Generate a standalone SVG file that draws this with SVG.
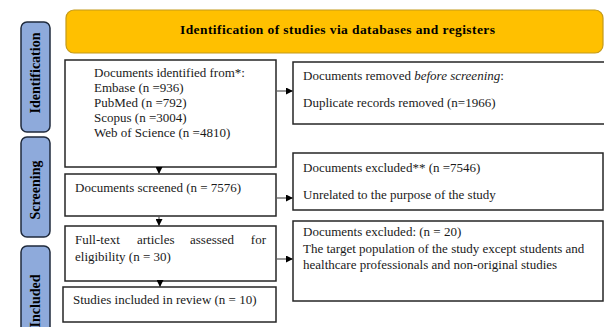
<svg xmlns="http://www.w3.org/2000/svg" width="604" height="327" viewBox="0 0 604 327">
  <defs>
    <marker id="arrow" viewBox="0 0 10 10" refX="10" refY="5" markerWidth="7" markerHeight="7" markerUnits="userSpaceOnUse" orient="auto">
      <path d="M0,0 L10,5 L0,10 z" fill="#000"/>
    </marker>
    <style>
      .box { fill: #fff; stroke: #262626; stroke-width: 1.5; }
      .phase { fill: #8eaadb; stroke: #1f2a3c; stroke-width: 1.5; }
      .phase-label { font-family: "Liberation Serif", "DejaVu Serif", serif; font-weight: bold; font-size: 14px; fill: #000; text-anchor: middle; }
      .t { font-family: "Liberation Serif", "Times New Roman", serif; font-size: 13px; fill: #1a1a1a; }
      .head { font-family: "Liberation Serif", "Times New Roman", serif; font-size: 13.5px; font-weight: bold; fill: #000; }
      .conn { stroke: #555; stroke-width: 1.2; fill: none; }
    </style>
  </defs>
  <rect width="604" height="327" fill="#fff"/>

  <!-- header banner -->
  <g id="header">
    <rect x="66" y="10" width="537" height="43" rx="8" ry="8" fill="#ffc000" stroke="#c49a1a" stroke-width="1.2"/>
    <text class="head" x="180" y="34" textLength="315" lengthAdjust="spacing">Identification of studies via databases and registers</text>
  </g>

  <!-- phase tabs -->
  <g id="phase-identification">
    <rect class="phase" x="21" y="22" width="29" height="110" rx="6" ry="6"/>
    <text class="phase-label" transform="translate(40,73) rotate(-90)">Identification</text>
  </g>
  <g id="phase-screening">
    <rect class="phase" x="21" y="137" width="29" height="100" rx="6" ry="6"/>
    <text class="phase-label" transform="translate(40,190) rotate(-90)">Screening</text>
  </g>
  <g id="phase-included">
    <rect class="phase" x="21" y="246" width="29" height="100" rx="6" ry="6"/>
    <text class="phase-label" transform="translate(40,301) rotate(-90)">Included</text>
  </g>

  <!-- left column -->
  <g id="identified">
    <rect class="box" x="65" y="60" width="211" height="107"/>
    <text class="t" x="94" y="77">Documents identified from*:</text>
    <text class="t" x="94" y="92">Embase (n =936)</text>
    <text class="t" x="94" y="107">PubMed (n =792)</text>
    <text class="t" x="94" y="122">Scopus (n =3004)</text>
    <text class="t" x="94" y="137">Web of Science (n =4810)</text>
  </g>
  <g id="screened">
    <rect class="box" x="65" y="174" width="211" height="42"/>
    <text class="t" x="75" y="192">Documents screened (n = 7576)</text>
  </g>
  <g id="fulltext">
    <rect class="box" x="65" y="226" width="211" height="55"/>
    <text class="t" y="244"><tspan x="75">Full-text</tspan><tspan x="137">articles</tspan><tspan x="190">assessed</tspan><tspan x="266" text-anchor="end">for</tspan></text>
    <text class="t" x="75" y="261">eligibility (n = 30)</text>
  </g>
  <g id="included">
    <rect class="box" x="63" y="287" width="213" height="35"/>
    <text class="t" x="73" y="304">Studies included in review (n = 10)</text>
  </g>

  <!-- right column -->
  <g id="removed">
    <rect class="box" x="293" y="62" width="315" height="62"/>
    <text class="t" x="303" y="80">Documents removed <tspan font-style="italic">before screening</tspan>:</text>
    <text class="t" x="303" y="107">Duplicate records removed (n=1966)</text>
  </g>
  <g id="excluded-screening">
    <rect class="box" x="293" y="153" width="310" height="57"/>
    <text class="t" x="303" y="172">Documents excluded** (n =7546)</text>
    <text class="t" x="303" y="199">Unrelated to the purpose of the study</text>
  </g>
  <g id="excluded-fulltext">
    <rect class="box" x="293" y="221" width="310" height="80"/>
    <text class="t" x="303" y="236">Documents excluded: (n = 20)</text>
    <text class="t" x="303" y="253">The target population of the study except students and</text>
    <text class="t" x="303" y="269">healthcare professionals and non-original studies</text>
  </g>

  <!-- connectors -->
  <g id="connectors">
    <line class="conn" x1="277" y1="91" x2="293" y2="91" marker-end="url(#arrow)"/>
    <line class="conn" x1="159" y1="167" x2="159" y2="174" marker-end="url(#arrow)"/>
    <line class="conn" x1="277" y1="198" x2="293" y2="198" marker-end="url(#arrow)"/>
    <line class="conn" x1="159" y1="216" x2="159" y2="226" marker-end="url(#arrow)"/>
    <line class="conn" x1="277" y1="259" x2="293" y2="259" marker-end="url(#arrow)"/>
    <line class="conn" x1="160" y1="281" x2="160" y2="287" marker-end="url(#arrow)"/>
  </g>
</svg>
